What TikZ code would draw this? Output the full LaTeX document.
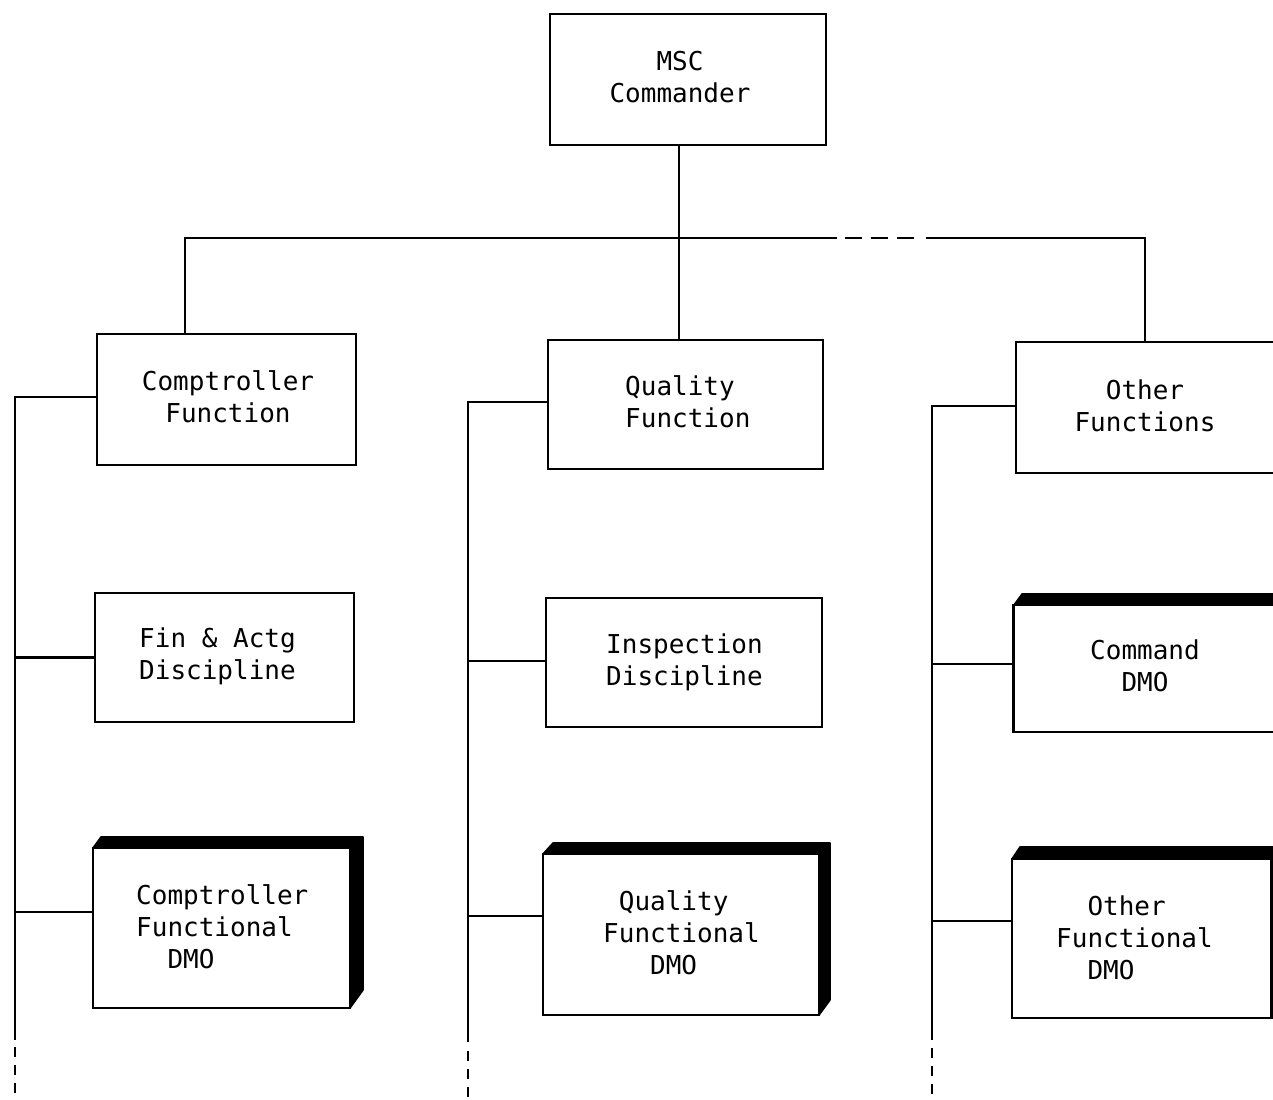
\documentclass[tikz,border=0pt]{standalone}
\usepackage{fontspec}
\newfontfamily\tw{DejaVu Sans Mono}
\begin{document}
\begin{tikzpicture}[x=0.5pt,y=-0.5pt,
  line width=1.2pt,
  box/.style={draw=black,line width=1.2pt,fill=white,inner sep=0pt},
  txt/.style={font=\tw\fontsize{13}{16}\selectfont,inner sep=0pt,text=black},
  shade3d/.style={fill=black,draw=black,line width=0.8pt,line join=round},
  gapdash/.style={dash pattern=on 5pt off 4pt}]
\clip (0,0) rectangle (1273,1099);
\fill[white] (0,0) rectangle (1273,1099);

% ---------- boxes ----------
\node[box,minimum width=138pt,minimum height=65.5pt] (msc) at (688,79.5) {};
\node[box,minimum width=129.5pt,minimum height=65.5pt] (cf) at (226.5,399.5) {};
\node[box,minimum width=137.5pt,minimum height=64.5pt] (qf) at (685.5,404.5) {};
\node[box,minimum width=135pt,minimum height=65.5pt] (of) at (1151,407.5) {};
\node[box,minimum width=129.5pt,minimum height=64.5pt] (fa) at (224.5,657.5) {};
\node[box,minimum width=138pt,minimum height=64.5pt] (ins) at (684,662.5) {};

% 3D boxes: shadow then front face
\fill[shade3d] (93,848) -- (101,837) -- (363,837) -- (363,990) -- (350,1008) -- (350,848) -- cycle;
\node[box,minimum width=128.5pt,minimum height=80pt] (cd) at (221.5,928) {};

\fill[shade3d] (543,854) -- (553,843) -- (830,843) -- (830,1000) -- (819,1015) -- (819,854) -- cycle;
\node[box,minimum width=138pt,minimum height=80.5pt] (qd) at (681,934.5) {};

\fill[shade3d] (1014,605) -- (1022,594) -- (1290,594) -- (1290,732) -- (1280,732) -- (1280,605) -- cycle;
\node[box,minimum width=133pt,minimum height=63.5pt] (cmd) at (1146.5,668.5) {};

\fill[shade3d] (1012,859) -- (1020,847) -- (1290,847) -- (1290,1018) -- (1271,1018) -- (1271,859) -- cycle;
\node[box,minimum width=129.5pt,minimum height=79.5pt] (od) at (1141.5,938.5) {};

% ---------- texts ----------
\node[txt,align=center] (msc-t) at (680,77) {MSC\\Commander};
\node[txt,align=center] (cf-t) at (228,397) {Comptroller\\Function};
\node[txt,align=left,anchor=west] (qf-t) at (624,402) {Quality\\Function};
\node[txt,align=center] (of-t) at (1145,406) {Other\\Functions};
\node[txt,align=left,anchor=west] (fa-t) at (138,656) {Fin \& Actg\\Discipline};
\node[txt,align=left,anchor=west] (ins-t) at (605,662) {Inspection\\Discipline};
\node[txt,align=center] (cmd-t) at (1145,666) {Command\\DMO};
\node[txt,align=left,anchor=west] (cd-t) at (135,927) {Comptroller\\Functional\\\hphantom{MM}DMO};
\node[txt,align=left,anchor=west] (qd-t) at (602,933) {\hphantom{M}Quality\\Functional\\\hphantom{MMM}DMO};
\node[txt,align=left,anchor=west] (od-t) at (1055,938) {\hphantom{MM}Other\\Functional\\\hphantom{MM}DMO};

% ---------- top connectors ----------
\coordinate (j0) at (679,238);
\coordinate (jl) at (185,238);
\coordinate (jr) at (1145,238);
\coordinate (d1) at (837,238);
\coordinate (d2) at (845,238);
\coordinate (d3) at (918,238);
\coordinate (d4) at (926,238);
\draw (j0 |- msc.south) -- (j0 |- qf.north);
\draw (jl |- cf.north) -- (jl) -- (d1);
\draw[dash pattern=on 8.5pt off 4.5pt] (d2) -- (d3);
\draw (d4) -- (jr) -- (jr |- of.north);

% ---------- left spine ----------
\coordinate (s1t) at (15,397);
\coordinate (s1m) at (15,1040);
\coordinate (s1b) at (15,1099);
\coordinate (s1c) at (15,912);
\draw (cf.west |- s1t) -- (s1t) -- (s1m);
\draw[gapdash] ([yshift=-3.5pt]s1m) -- (s1b);
\draw (s1t |- fa.west) -- (fa.west);
\draw (s1c) -- (s1c -| cd.west);

% ---------- middle spine ----------
\coordinate (s2t) at (468,402);
\coordinate (s2m) at (468,1042);
\coordinate (s2b) at (468,1099);
\coordinate (s2c) at (468,916);
\draw (qf.west |- s2t) -- (s2t) -- (s2m);
\draw[gapdash] ([yshift=-4.5pt]s2m) -- (s2b);
\draw (s2t |- 0,661) -- (ins.west |- 0,661);
\draw (s2c) -- (s2c -| qd.west);

% ---------- right spine ----------
\coordinate (s3t) at (932,406);
\coordinate (s3m) at (932,1040);
\coordinate (s3b) at (932,1099);
\coordinate (s3a) at (932,664);
\coordinate (s3c) at (932,921);
\draw (of.west |- s3t) -- (s3t) -- (s3m);
\draw[gapdash] ([yshift=-4pt]s3m) -- (s3b);
\draw (s3a) -- (s3a -| cmd.west);
\draw (s3c) -- (s3c -| od.west);
\end{tikzpicture}
\end{document}
